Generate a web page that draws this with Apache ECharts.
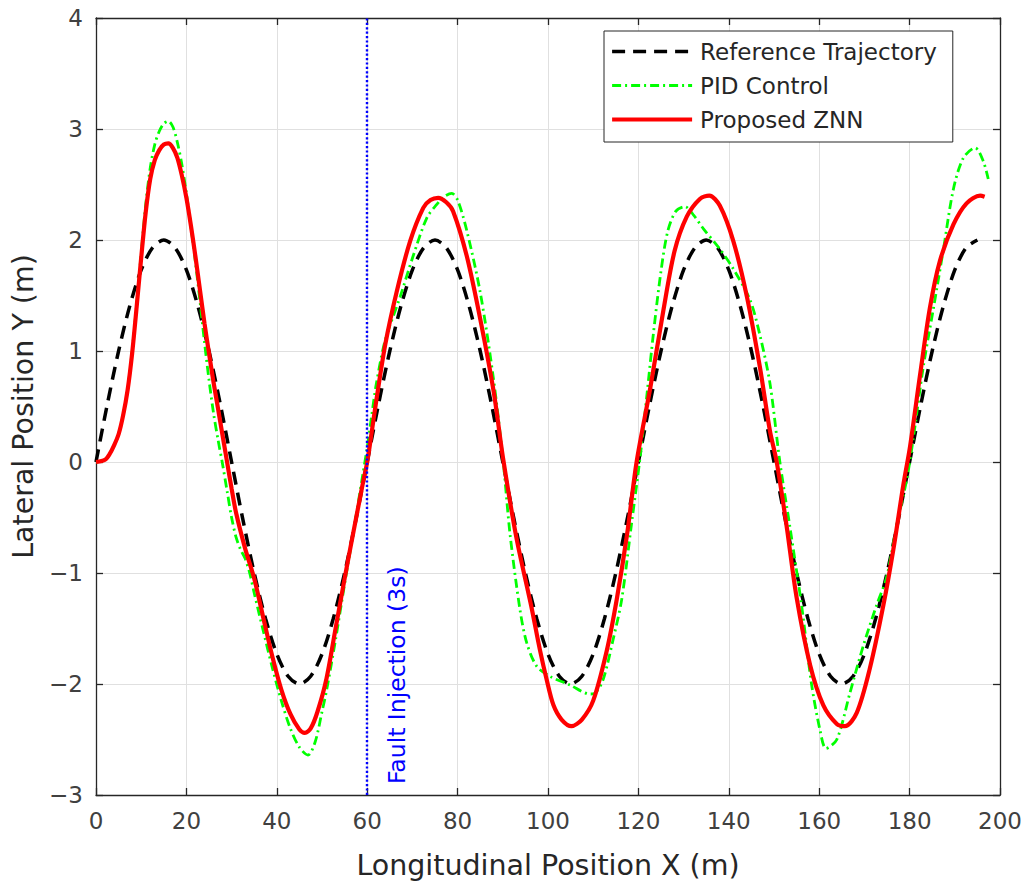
<!DOCTYPE html>
<html>
<head>
<meta charset="utf-8">
<script src="https://cdn.jsdelivr.net/npm/echarts@6/dist/echarts.min.js"></script>
<style>
  html, body { margin: 0; padding: 0; background: #fff; }
  #chart { width: 1031px; height: 894px; }
</style>
</head>
<body>
<div id="chart"></div>
<script>
var seriesNames = ['Reference Trajectory', 'PID Control', 'Proposed ZNN'];

// reference path, every 2.5 m
var refX = [0, 2.5, 5, 7.5, 10, 12.5, 15, 17.5, 20, 22.5, 25, 27.5, 30, 32.5, 35, 37.5, 40, 42.5, 45, 47.5,
  50, 52.5, 55, 57.5, 60, 62.5, 65, 67.5, 70, 72.5, 75, 77.5, 80, 82.5, 85, 87.5, 90, 92.5, 95, 97.5,
  100, 102.5, 105, 107.5, 110, 112.5, 115, 117.5, 120, 122.5, 125, 127.5, 130, 132.5, 135, 137.5, 140, 142.5, 145, 147.5,
  150, 152.5, 155, 157.5, 160, 162.5, 165, 167.5, 170, 172.5, 175, 177.5, 180, 182.5, 185, 187.5, 190, 192.5, 195];
var refY = [0, 0.52, 1, 1.41, 1.73, 1.93, 2, 1.93, 1.73, 1.41, 1, 0.52, 0, -0.52, -1, -1.41, -1.73, -1.93, -2, -1.93,
  -1.73, -1.41, -1, -0.52, 0, 0.52, 1, 1.41, 1.73, 1.93, 2, 1.93, 1.73, 1.41, 1, 0.52, 0, -0.52, -1, -1.41,
  -1.73, -1.93, -2, -1.93, -1.73, -1.41, -1, -0.52, 0, 0.52, 1, 1.41, 1.73, 1.93, 2, 1.93, 1.73, 1.41, 1, 0.52,
  0, -0.52, -1, -1.41, -1.73, -1.93, -2, -1.93, -1.73, -1.41, -1, -0.52, 0, 0.52, 1, 1.41, 1.73, 1.93, 2];

// PID response [x, y]
var pidPts = [[0, 0], [2, 0.02], [3, 0.07], [4, 0.15], [5, 0.25], [6, 0.42], [7, 0.65], [8, 1.0], [9, 1.42], [10, 1.88],
  [11, 2.32], [12, 2.65], [13, 2.86], [14, 2.98], [15, 3.05], [16, 3.07], [17, 3.02], [18, 2.88], [19, 2.68], [20, 2.42],
  [21, 2.12], [22, 1.8], [23, 1.45], [24, 1.08], [25, 0.74], [26, 0.44], [27, 0.2], [28, -0.02], [29, -0.26], [30, -0.5],
  [31, -0.68], [32, -0.79], [33, -0.87], [34, -1.0], [35, -1.18], [37, -1.52], [39, -1.85], [41, -2.15], [43, -2.4], [45, -2.57],
  [46.9, -2.64], [48.5, -2.52], [50, -2.25], [51, -2.06], [53, -1.6], [55, -1.1], [57, -0.62], [59, -0.12], [60, 0.13], [61, 0.42],
  [62, 0.7], [64, 1.1], [67.3, 1.49], [70.2, 1.86], [73.2, 2.2], [75.4, 2.32], [77, 2.39], [78.7, 2.42], [80, 2.36], [82, 2.09],
  [85, 1.53], [87.9, 0.76], [90.1, 0], [91.6, -0.65], [93.8, -1.33], [95.3, -1.63], [97.5, -1.84], [100.4, -1.93], [104.9, -2.01], [109.3, -2.09],
  [110.5, -2.08], [112.2, -1.96], [114.4, -1.6], [116.3, -1.24], [118.5, -0.55], [120.4, 0.05], [122, 0.65], [123.3, 1.15], [125, 1.72], [126.5, 2.08],
  [128.3, 2.26], [130.3, 2.3], [132.3, 2.22], [134.4, 2.1], [138, 1.92], [141, 1.74], [144.7, 1.46], [146.9, 1.14], [149.1, 0.71], [151.3, 0],
  [153.5, -0.58], [156.1, -1.29], [158.3, -2.0], [160.2, -2.42], [161.5, -2.58], [163.9, -2.5], [166.8, -2.08], [169.8, -1.65], [172.7, -1.29], [174.9, -1.04],
  [177.1, -0.58], [179.4, -0.15], [180.8, 0.21], [183, 0.85], [185.3, 1.39], [187.5, 1.92], [189.7, 2.46], [191.9, 2.74], [194.5, 2.83], [196.3, 2.71],
  [197.4, 2.55]];

// ZNN response [x, y]
var znnPts = [[0, 0], [2, 0.02], [3, 0.07], [4, 0.15], [5, 0.25], [6, 0.42], [7, 0.65], [8, 0.98], [9, 1.4], [10, 1.84],
  [11, 2.25], [12, 2.55], [13, 2.72], [14, 2.81], [15, 2.86], [16, 2.87], [17, 2.83], [18, 2.74], [19, 2.58], [20, 2.38],
  [21, 2.13], [22, 1.85], [23, 1.55], [24, 1.25], [25, 0.98], [26, 0.72], [27, 0.48], [28, 0.24], [29, 0], [30, -0.24],
  [31, -0.46], [33, -0.78], [35, -1.05], [37, -1.4], [39, -1.75], [41, -2.05], [43, -2.27], [45, -2.41], [46.2, -2.44], [47.5, -2.4],
  [49, -2.25], [51, -1.95], [53, -1.5], [55, -1.05], [57, -0.62], [59, -0.2], [60, 0], [61, 0.27], [62, 0.55], [64, 1.06],
  [66.5, 1.53], [69.5, 1.99], [72.4, 2.29], [74, 2.36], [75.7, 2.38], [77.5, 2.34], [79, 2.26], [82, 1.86], [85, 1.29], [88, 0.63],
  [90, 0.05], [93, -0.68], [96.3, -1.3], [98.2, -1.69], [99.7, -1.96], [101.2, -2.19], [103, -2.32], [105.2, -2.38], [107.5, -2.32], [110, -2.15],
  [113, -1.7], [115.2, -1.24], [117.5, -0.65], [119.6, 0], [122.6, 0.66], [125.5, 1.36], [128, 1.9], [130.7, 2.21], [133.6, 2.37], [135.7, 2.4],
  [138, 2.31], [141, 1.99], [144, 1.49], [146.9, 0.85], [149.1, 0.28], [150.6, 0], [152.8, -0.58], [155, -1.22], [158, -1.83], [160.9, -2.19],
  [163.9, -2.36], [165.7, -2.38], [168.3, -2.26], [171.2, -1.86], [174.2, -1.29], [176.4, -0.79], [178.6, -0.21], [180.1, 0.14], [182.3, 0.78], [184.5, 1.39],
  [186.7, 1.81], [189.7, 2.14], [192.6, 2.33], [195.6, 2.4], [196.6, 2.39]];

var faultX = 60;
var faultText = 'Fault Injection (3s)';

(function() {
  var font = '"DejaVu Sans", sans-serif';
  var ink = '#262626';
  var gridColor = '#e0e0e0';

  var chart = echarts.init(document.getElementById('chart'), null, { renderer: 'svg' });

  var refData = refX.map(function(x, i) { return [x, refY[i]]; });

  function minus(v) { return v < 0 ? '\u2212' + (-v) : String(v); }

  var frameAxis = {
    axisLine: { onZero: false, lineStyle: { color: ink, width: 1.3 } },
    axisTick: { inside: true, length: 7, lineStyle: { color: ink, width: 1.3 } },
    axisLabel: { show: false },
    splitLine: { show: false }
  };

  var option = {
    animation: false,
    backgroundColor: '#fff',
    grid: { left: 96, right: 31, top: 18, bottom: 99 },
    legend: {
      data: seriesNames,
      orient: 'vertical',
      left: 604,
      top: 31,
      itemWidth: 80,
      itemHeight: 14,
      itemGap: 11,
      padding: [9, 16, 11, 6],
      borderColor: ink,
      borderWidth: 1,
      backgroundColor: '#fff',
      itemStyle: { opacity: 0, borderWidth: 0 },
      lineStyle: { width: 'inherit' },
      textStyle: { color: ink, fontFamily: font, fontSize: 23, padding: [0, 0, 0, 3] }
    },
    xAxis: [{
      type: 'value',
      min: 0, max: 200, interval: 20,
      position: 'bottom',
      name: 'Longitudinal Position X (m)',
      nameLocation: 'middle',
      nameGap: 56,
      nameTextStyle: { color: ink, fontFamily: font, fontSize: 28.5 },
      axisLine: { onZero: false, lineStyle: { color: ink, width: 1.3 } },
      axisTick: { inside: true, length: 7, lineStyle: { color: ink, width: 1.3 } },
      axisLabel: { color: '#404040', fontFamily: font, fontSize: 23, margin: 14 },
      splitLine: { lineStyle: { color: gridColor, width: 1 } }
    }, Object.assign({ type: 'value', min: 0, max: 200, interval: 20, position: 'top' }, frameAxis)],
    yAxis: [{
      type: 'value',
      min: -3, max: 4, interval: 1,
      position: 'left',
      name: 'Lateral Position Y (m)',
      nameLocation: 'middle',
      nameGap: 52,
      nameTextStyle: { color: ink, fontFamily: font, fontSize: 28.5 },
      axisLine: { onZero: false, lineStyle: { color: ink, width: 1.3 } },
      axisTick: { inside: true, length: 7, lineStyle: { color: ink, width: 1.3 } },
      axisLabel: { color: '#404040', fontFamily: font, fontSize: 23, margin: 13, formatter: minus },
      splitLine: { lineStyle: { color: gridColor, width: 1 } }
    }, Object.assign({ type: 'value', min: -3, max: 4, interval: 1, position: 'right' }, frameAxis)],
    series: [
      {
        name: seriesNames[0],
        type: 'line',
        data: refData,
        symbol: 'none',
        smooth: 0.3,
        lineStyle: { color: '#000', width: 3.5, type: [13, 8] },
        itemStyle: { color: '#000' },
        markLine: {
          silent: true,
          symbol: 'none',
          label: { show: false },
          lineStyle: { color: '#0000ff', width: 2.4, type: [2.2, 2.2] },
          data: [{ xAxis: faultX }]
        }
      },
      {
        name: seriesNames[1],
        type: 'line',
        data: pidPts,
        symbol: 'none',
        smooth: 0.3,
        lineStyle: { color: '#00ff00', width: 2.8, type: [9, 4, 2, 4] },
        itemStyle: { color: '#00ff00' }
      },
      {
        name: seriesNames[2],
        type: 'line',
        data: znnPts,
        symbol: 'none',
        smooth: 0.3,
        lineStyle: { color: '#ff0000', width: 4.2 },
        itemStyle: { color: '#ff0000' }
      }
    ]
  };

  chart.setOption(option);

  // vertical annotation next to the fault line
  var p = chart.convertToPixel({ xAxisIndex: 0, yAxisIndex: 0 }, [faultX, -3]);
  chart.setOption({
    graphic: [{
      type: 'text',
      x: p[0] + 30,
      y: p[1] - 11,
      rotation: Math.PI / 2,
      style: {
        text: faultText,
        fill: '#0000ff',
        font: '23.5px "DejaVu Sans", sans-serif',
        align: 'left',
        verticalAlign: 'middle'
      },
      z: 10
    }]
  });

  window.addEventListener('resize', function() { chart.resize(); });
})();
</script>
</body>
</html>
